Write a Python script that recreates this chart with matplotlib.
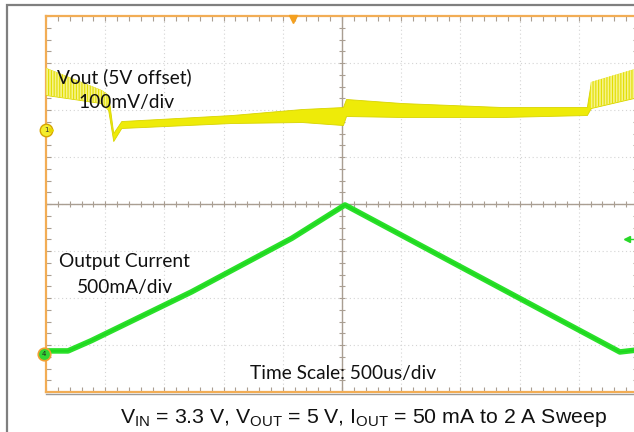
import numpy as np
import matplotlib
matplotlib.use("Agg")
import matplotlib.pyplot as plt
from matplotlib.patches import Rectangle
from matplotlib.lines import Line2D

# ---------------- data ----------------
# time axis in ms (500 us/div, 10 divisions)
time_div_ms = 0.5
n_hdiv = 10
n_vdiv = 8

# Channel 1: Vout (5V offset), 100 mV/div, envelope of the noisy trace (mV rel. to 5 V)
vout_t_ms = [0.0, 0.466, 0.525, 0.568, 0.636, 1.568, 2.161, 2.508, 2.534, 3.008, 3.856, 4.568, 4.602, 5.0]
vout_upper_mV = [131.9, 85.1, 74.5, -6.4, 19.1, 31.9, 44.7, 48.9, 66.0, 57.4, 48.9, 48.9, 102.1, 131.9]
vout_lower_mV = [74.5, 57.4, 42.6, -23.4, 4.3, 14.9, 17.0, 10.6, 29.8, 27.7, 27.7, 31.9, 46.8, 70.2]
vout_ripple_until_ms = 0.52
vout_ripple_from_ms = 4.59
ch1_mV_per_div = 100
ch1_offset_div = 1.574

# Channel 4: output current, 500 mA/div
iout_t_ms = [0.0, 0.186, 0.381, 1.229, 2.076, 2.525, 4.847, 5.0]
iout_A = [0.032, 0.032, 0.140, 0.660, 1.230, 1.585, 0.021, 0.043]
ch4_A_per_div = 0.5
ch4_offset_div = -3.19
ch4_trigger_level_A = 1.22
trigger_time_ms = 2.09

labels = {
    "vout1": "Vout (5V offset)",
    "vout2": "100mV/div",
    "iout1": "Output Current",
    "iout2": "500mA/div",
    "time": "Time Scale: 500us/div",
}
caption = (r"V$_{\mathregular{IN}}$ = 3.3 V, V$_{\mathregular{OUT}}$ = 5 V, "
           r"I$_{\mathregular{OUT}}$ = 50 mA to 2 A Sweep")

# ---------------- figure ----------------
W, H = 634, 432
fig = plt.figure(figsize=(W / 100, H / 100), dpi=100)
fig.patch.set_facecolor("white")
plt.rcParams["mathtext.fontset"] = "custom"
plt.rcParams["mathtext.rm"] = "Liberation Sans"
plt.rcParams["hatch.linewidth"] = 0.8

def fx(x):
    return x / W

def fy(y):
    return 1 - y / H

# outer gray frame (partly outside the image)
fig.add_artist(Rectangle((fx(7), fy(460)), fx(700), (460 - 5) / H, transform=fig.transFigure,
                         fill=False, edgecolor="#7f7f7f", linewidth=1.6))

left_px, top_px, bottom_px = 46, 16, 392
ax = fig.add_axes([fx(left_px), fy(bottom_px), 592 / W, (bottom_px - top_px) / H])
ax.set_xlim(0, n_hdiv * time_div_ms)
ax.set_ylim(-n_vdiv / 2, n_vdiv / 2)
ax.set_facecolor("white")

# dotted graticule
for k in range(1, n_hdiv):
    ax.axvline(k * time_div_ms, color="#d4d4d4", lw=0.8, ls=(0, (1, 2.5)), zorder=1)
for k in range(-n_vdiv // 2 + 1, n_vdiv // 2):
    ax.axhline(k, color="#d4d4d4", lw=0.8, ls=(0, (1, 2.5)), zorder=1)

# center cross with minor ticks
xc = n_hdiv / 2 * time_div_ms
ax.axvline(xc, color="#a99e92", lw=1.0, zorder=2)
ax.axhline(0, color="#a99e92", lw=1.0, zorder=2)
xm = np.arange(0, n_hdiv * time_div_ms + 1e-9, time_div_ms / 5)
ym = np.arange(-n_vdiv / 2, n_vdiv / 2 + 1e-9, 0.25)
ax.plot(xm, np.zeros_like(xm), ls="none", marker="|", ms=4, mew=0.8, color="#a99e92", zorder=2)
ax.plot(np.full_like(ym, xc), ym, ls="none", marker="_", ms=4, mew=0.8, color="#a99e92", zorder=2)

# border ticks
ax.set_xticks(xm)
ax.set_yticks(ym)
ax.tick_params(axis="both", which="both", direction="in", length=3.5, width=0.8,
               color="#a99e92", top=True, right=True, labelleft=False, labelbottom=False)
for s in ax.spines.values():
    s.set_color("#f2ad55")
    s.set_linewidth(1.6)

# ----- Vout trace -----
t = np.array(vout_t_ms)
up = ch1_offset_div + np.array(vout_upper_mV) / ch1_mV_per_div
lo = ch1_offset_div + np.array(vout_lower_mV) / ch1_mV_per_div
ax.fill_between(t, lo, up, color="#eeeb08", edgecolor="#d8d400", linewidth=0.6, zorder=3)
ripple = (t <= vout_ripple_until_ms + 0.01) | (t >= vout_ripple_from_ms)
ax.fill_between(t, lo, up, where=ripple, interpolate=False, facecolor="#f6f38a",
                edgecolor="#e2de00", hatch="||||||", linewidth=0, zorder=4)

# ----- Iout trace -----
ti = np.array(iout_t_ms)
yi = ch4_offset_div + np.array(iout_A) / ch4_A_per_div
ax.plot(ti, yi, color="#2ae02a", lw=4.0, solid_capstyle="butt", solid_joinstyle="round", zorder=5)
ax.plot(ti, yi, color="#12d012", lw=1.2, zorder=5, alpha=0.5)

# channel markers
ax.plot([0], [ch1_offset_div], marker="o", ms=9, mfc="#f4ec2c", mec="#d6a400", mew=1.0,
        clip_on=False, zorder=8)
ax.text(0, ch1_offset_div, "1", ha="center", va="center", fontsize=5, color="#333333",
        clip_on=False, zorder=9)
ax.plot([0.04], [ch1_offset_div], marker=">", ms=3, color="#e8d800", clip_on=False, zorder=8)
ax.plot([-0.02], [ch4_offset_div], marker="o", ms=9, mfc="#33d633", mec="#f0a030", mew=1.2,
        clip_on=False, zorder=8)
ax.text(-0.02, ch4_offset_div, "4", ha="center", va="center", fontsize=5, color="#222222",
        clip_on=False, zorder=9)
ax.plot([trigger_time_ms], [n_vdiv / 2 - 0.07], marker="v", ms=6, color="#f4a020",
        clip_on=False, zorder=8)
trig_y = ch4_offset_div + ch4_trigger_level_A / ch4_A_per_div
ax.plot([4.91, 4.98], [trig_y, trig_y], color="#28d828", lw=1.0, zorder=8)
ax.plot([4.91], [trig_y], marker="<", ms=4, color="#28d828", zorder=8)

# bottom gray line under the screen
fig.add_artist(Line2D([fx(left_px), 1.0], [fy(393.5), fy(393.5)], transform=fig.transFigure,
                      color="#9a9a9a", lw=1.0))

# ----- texts -----
lab_font = dict(family=["Lato", "DejaVu Sans"], fontsize=13.8, color="#111111")
fig.text(fx(57), fy(83), labels["vout1"], va="baseline", ha="left", zorder=10, **lab_font)
fig.text(fx(78), fy(108), labels["vout2"], va="baseline", ha="left", zorder=10, **lab_font)
fig.text(fx(59), fy(267), labels["iout1"], va="baseline", ha="left", zorder=10, **lab_font)
fig.text(fx(77), fy(293), labels["iout2"], va="baseline", ha="left", zorder=10, **lab_font)
fig.text(fx(250), fy(379), labels["time"], va="baseline", ha="left", zorder=10, **lab_font)

fig.text(fx(363), fy(423), caption, va="baseline", ha="center",
         family=["Liberation Sans", "DejaVu Sans"], fontsize=15.3, color="#111111")

fig.savefig("out.png", dpi=100, facecolor="white")
